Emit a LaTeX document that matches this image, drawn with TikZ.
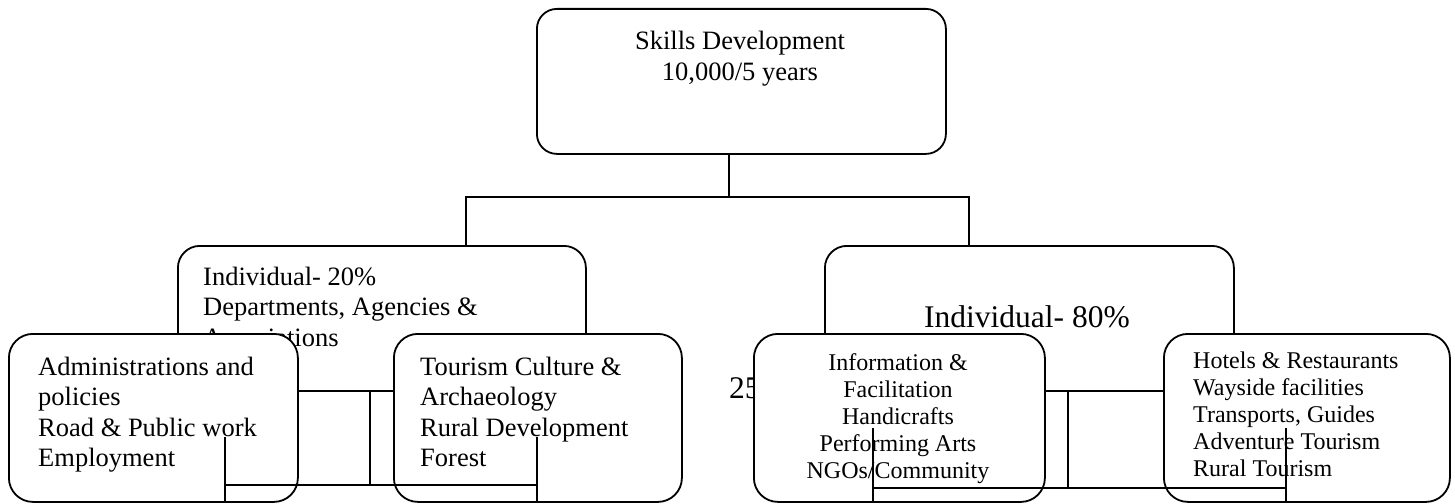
\documentclass[tikz,border=0pt]{standalone}
\usepackage{fontspec}
\setmainfont{Liberation Serif}
% stacked lines whose first baseline is the node's base anchor
\newcommand\linesof[2]{\begin{tabular}[t]{@{}#1@{}}#2\end{tabular}}
\begin{document}
\begin{tikzpicture}[x=1pt,y=-1pt,
  frame/.style={draw=black, line width=1.8pt, fill=white, rounded corners=#1,
                inner sep=0pt, anchor=north west},
  frame/.default=22pt,
  wire/.style={draw=black, line width=1.8pt},
  txt/.style={inner sep=0pt, font=\fontsize{26.5}{30.5}\selectfont},
  smalltxt/.style={inner sep=0pt, font=\fontsize{24}{27.2}\selectfont},
  bigtxt/.style={inner sep=0pt, font=\fontsize{31.5}{36}\selectfont}]
\useasboundingbox (0,0) rectangle (1455,503);

% top level
\node[frame=20pt, minimum width=409pt, minimum height=145pt] (top) at (536,8) {};
\node[txt, anchor=base] (ttop) at (740,50) {\linesof{c}{Skills Development\\10,000/5 years}};

% second level
\node[frame, minimum width=408pt, minimum height=145pt] (ml) at (177,245) {};
\node[frame, minimum width=409pt, minimum height=145pt] (mr) at (824,245) {};
\node[txt, anchor=base west] (tml) at (203,285)
  {\linesof{l}{Individual- 20\%\\Departments, Agencies \&\\Associations}};
\node[bigtxt, anchor=base] (tmr) at (1027,327) {Individual- 80\%};
\node[bigtxt, anchor=base west] (share) at (729,398) {25};

% third level
\node[frame=24pt, minimum width=289pt, minimum height=168pt] (a) at (8,333) {};
\node[frame=24pt, minimum width=288pt, minimum height=168pt] (b) at (393,333) {};
\node[frame=24pt, minimum width=291pt, minimum height=168pt] (c) at (753,333) {};
\node[frame=24pt, minimum width=286pt, minimum height=168pt] (d) at (1163,333) {};

\node[txt, anchor=base west] (ta) at (38,375)
  {\linesof{l}{Administrations and\\policies\\Road \& Public work\\Employment}};
\node[txt, anchor=base west] (tb) at (420,375)
  {\linesof{l}{Tourism Culture \&\\Archaeology\\Rural Development\\Forest}};
\node[smalltxt, anchor=base] (tc) at (898,370)
  {\linesof{c}{Information \&\\Facilitation\\Handicrafts\\Performing Arts\\NGOs/Community}};
\node[smalltxt, anchor=base west] (td) at (1193,368)
  {\linesof{l}{Hotels \& Restaurants\\Wayside facilities\\Transports, Guides\\Adventure Tourism\\Rural Tourism}};

% connectors from the top box
\coordinate (hub) at (729,197);
\draw[wire] (top.south -| hub) -- (hub);
\draw[wire] ([xshift=84pt]ml.north) |- (hub) -| ([xshift=-60.5pt]mr.north);

% left fork
\coordinate (lfork) at (370,485);
\coordinate (la) at (225,485);
\coordinate (lb) at (537,485);
\draw[wire] (ml.south -| lfork) -- (lfork);
\draw[wire] (la) -- (lb);
\draw[wire] ([yshift=48pt]la) -- ([yshift=-18pt]la);
\draw[wire] ([yshift=48pt]lb) -- ([yshift=-18pt]lb);

% right fork
\coordinate (rfork) at (1068,488);
\coordinate (ra) at (873,488);
\coordinate (rb) at (1286,488);
\draw[wire] (mr.south -| rfork) -- (rfork);
\draw[wire] (ra) -- (rb);
\draw[wire] ([yshift=60pt]ra) -- ([yshift=-15pt]ra);
\draw[wire] ([yshift=60pt]rb) -- ([yshift=-15pt]rb);
\end{tikzpicture}
\end{document}
